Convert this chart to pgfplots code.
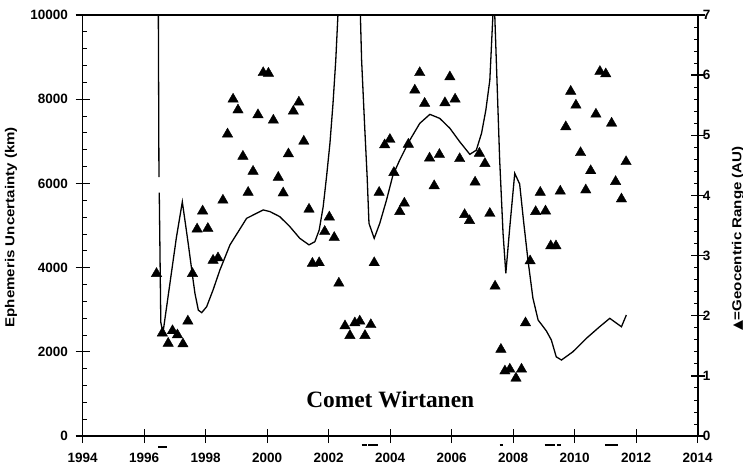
\documentclass[border=0pt]{standalone}
\usepackage{pgfplots}
\pgfplotsset{compat=1.18}
\usepackage{fontspec}
\setmainfont{Liberation Sans}
\newfontfamily\titlefont{Liberation Serif}
\newfontfamily\symfont{DejaVu Sans}
\newfontfamily\labelfont[FakeStretch=1.16]{Liberation Sans}

% ephemeris uncertainty (km), left axis
\pgfplotstableread{
year km
1996.46 10000
1996.48 6150
1996.485 nan
1996.49 5780
1996.54 2700
1996.61 2450
1997.05 4730
1997.24 5560
1997.43 4580
1997.59 3705
1997.65 3390
1997.76 2990
1997.87 2930
1998.03 3070
1998.24 3470
1998.46 3940
1998.79 4540
1999.33 5170
1999.87 5370
2000.09 5330
2000.41 5210
2000.74 4970
2001.06 4695
2001.36 4540
2001.55 4615
2001.69 4890
2001.82 5445
2001.93 6160
2002.04 6950
2002.14 7900
2002.23 8930
2002.30 10000
2002.67 11800
2003.03 10000
2003.07 8930
2003.17 7345
2003.25 6160
2003.31 5050
2003.48 4695
2003.66 5050
2003.88 5605
2004.09 6200
2004.31 6555
2004.58 6950
2004.64 7030
2004.96 7425
2005.29 7640
2005.61 7545
2005.94 7310
2006.26 6990
2006.59 6690
2006.80 6790
2006.97 7190
2007.11 7740
2007.24 8455
2007.34 10000
2007.37 10200
2007.40 10000
2007.45 8930
2007.56 6555
2007.67 4810
2007.76 3865
2007.89 4970
2008.05 6240
2008.21 5985
2008.34 5083
2008.48 4180
2008.64 3278
2008.81 2755
2009.08 2494
2009.24 2280
2009.40 1880
2009.57 1805
2009.94 2000
2010.38 2320
2010.81 2595
2011.14 2795
2011.52 2595
2011.68 2875
}\uncert

% geocentric range (AU), right axis
\pgfplotstableread{
year au
1996.40 2.70
1996.59 1.71
1996.78 1.54
1996.92 1.75
1997.08 1.68
1997.26 1.53
1997.42 1.91
1997.57 2.70
1997.72 3.44
1997.90 3.74
1998.07 3.45
1998.24 2.92
1998.40 2.96
1998.56 3.92
1998.71 5.02
1998.89 5.60
1999.05 5.42
1999.21 4.65
1999.38 4.05
1999.54 4.40
1999.70 5.34
1999.87 6.04
2000.04 6.03
2000.20 5.25
2000.36 4.30
2000.52 4.04
2000.69 4.69
2000.85 5.40
2001.03 5.55
2001.19 4.90
2001.36 3.77
2001.47 2.87
2001.69 2.88
2001.87 3.40
2002.02 3.64
2002.18 3.30
2002.33 2.54
2002.53 1.83
2002.69 1.67
2002.85 1.88
2003.01 1.91
2003.18 1.67
2003.37 1.85
2003.48 2.88
2003.64 4.05
2003.82 4.84
2003.99 4.93
2004.12 4.38
2004.31 3.73
2004.46 3.87
2004.59 4.85
2004.80 5.75
2004.96 6.04
2005.12 5.53
2005.28 4.62
2005.43 4.16
2005.60 4.68
2005.78 5.54
2005.94 5.97
2006.11 5.60
2006.26 4.61
2006.42 3.68
2006.58 3.58
2006.76 4.22
2006.90 4.70
2007.08 4.53
2007.24 3.70
2007.41 2.49
2007.60 1.44
2007.73 1.08
2007.89 1.11
2008.09 0.96
2008.27 1.11
2008.40 1.88
2008.55 2.91
2008.73 3.73
2008.88 4.05
2009.05 3.74
2009.22 3.16
2009.39 3.16
2009.53 4.07
2009.71 5.14
2009.87 5.73
2010.04 5.50
2010.19 4.71
2010.36 4.09
2010.52 4.41
2010.69 5.35
2010.82 6.06
2011.01 6.02
2011.20 5.20
2011.33 4.23
2011.52 3.94
2011.67 4.56
}\range

\pgfplotsset{
  every axis/.append style={
    scale only axis, width=615pt, height=421pt,
    xmin=1994, xmax=2014,
    scaled ticks=false,
    tick align=inside,
    major tick length=7pt, minor tick length=4pt,
    major tick style={line width=1.3pt, black},
    minor tick style={line width=0.8pt, black},
    extra tick style={tick align=outside, major tick length=7pt},
    axis line style={line width=1.6pt},
    /pgf/number format/1000 sep={},
    /pgf/number format/assume math mode=true,
    tick label style={font=\bfseries\fontsize{13.5}{15}\selectfont},
    label style={font=\labelfont\bfseries\fontsize{13}{15}\selectfont},
  },
}

\begin{document}
\begin{tikzpicture}
\path[use as bounding box] (-82.7pt,-35pt) rectangle (660.3pt,436pt);
\begin{axis}[
    ymin=0, ymax=10000,
    xtick={1994,1996,...,2014},
    ytick={0,2000,...,10000},
    minor x tick num=19,
    minor y tick num=4,
    xtick pos=bottom, ytick pos=left,
    extra x ticks={1994,1996,...,2014},
    extra y ticks={0,2000,...,10000},
    extra x tick labels={}, extra y tick labels={},
    xticklabel style={anchor=north, inner sep=0pt, yshift=-17pt},
    yticklabel style={anchor=east, inner sep=0pt, xshift=-14.7pt},
    ylabel={Ephemeris Uncertainty (km)},
    ylabel style={at={(axis description cs:-0.1166,0.496)}, anchor=center},
]
\addplot[black, line width=1.3pt, unbounded coords=jump] table[x=year, y=km] {\uncert};
\node[font=\titlefont\bfseries\fontsize{23.4}{26}\selectfont] at (axis cs:2004,855) {Comet Wirtanen};
\end{axis}

\begin{axis}[
    ymin=0, ymax=7,
    axis x line=none, axis y line*=right,
    ytick={0,...,7},
    minor y tick num=4,
    extra y ticks={0,...,7},
    extra y tick labels={},
    clip=false,
    yticklabel style={anchor=west, inner sep=0pt, xshift=5pt},
    ylabel={{\symfont ▲}=Geocentric Range (AU)},
    ylabel style={at={(axis description cs:1.0655,0.47)}, anchor=center},
]
\addplot[only marks, mark=triangle*, mark size=6pt, black, mark options={fill=black}]
  table[x=year, y=au] {\range};
% short bars below the time axis
\addplot[black, line width=2pt, unbounded coords=jump] coordinates {
  (1996.46,-0.18) (1996.73,-0.18) (1996.8,nan)
  (2003.07,-0.15) (2003.23,-0.15) (2003.25,nan)
  (2003.28,-0.15) (2003.61,-0.15) (2003.7,nan)
  (2007.56,-0.15) (2007.66,-0.15) (2007.7,nan)
  (2009.02,-0.15) (2009.35,-0.15) (2009.4,nan)
  (2009.42,-0.15) (2009.57,-0.15) (2009.7,nan)
  (2010.98,-0.15) (2011.41,-0.15)
};
\end{axis}
\end{tikzpicture}
\end{document}
